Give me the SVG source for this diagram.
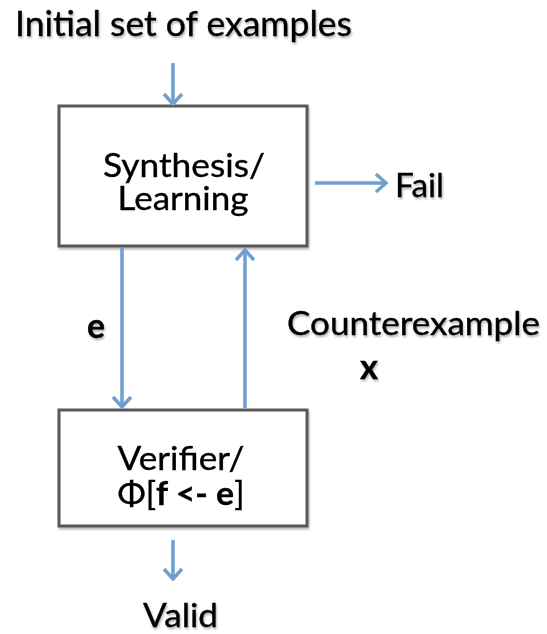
<svg xmlns="http://www.w3.org/2000/svg" width="547" height="634" viewBox="0 0 547 634">
  <defs>
    <filter id="soft" x="-10%" y="-10%" width="120%" height="130%">
      <feGaussianBlur in="SourceAlpha" stdDeviation="1.2"/>
      <feOffset dx="1" dy="2" result="b"/>
      <feComponentTransfer><feFuncA type="linear" slope="0.3"/></feComponentTransfer>
      <feMerge><feMergeNode/><feMergeNode in="SourceGraphic"/></feMerge>
    </filter>
    <marker id="head" viewBox="-14 -12 16 24" refX="0" refY="0" markerWidth="16" markerHeight="24" markerUnits="userSpaceOnUse" orient="auto">
      <path d="M-10,-9 L0,0 L-10,9" fill="none" stroke="#6f9fd0" stroke-width="3.5" stroke-linejoin="miter"/>
    </marker>
  </defs>
  <style>
    .box { fill: #ffffff; stroke: #595959; stroke-width: 3; }
    .lbl { font-family: Lato, "Open Sans", "Liberation Sans", sans-serif; fill: #000000; stroke: #000000; stroke-width: 0.35; }
    .edge { fill: none; stroke: #6f9fd0; stroke-width: 3.5; marker-end: url(#head); }
    .b { font-weight: bold; }
  </style>
  <rect width="547" height="634" fill="#ffffff"/>

  <text class="lbl" x="15" y="36" font-size="34" textLength="337" lengthAdjust="spacingAndGlyphs" filter="url(#soft)">Initial set of examples</text>

  <g id="synthesis" filter="url(#soft)">
    <rect class="box" x="59" y="106" width="248" height="140"/>
    <text class="lbl" x="184" y="177" font-size="32" text-anchor="middle" textLength="162" lengthAdjust="spacingAndGlyphs">Synthesis/</text>
    <text class="lbl" x="183" y="210" font-size="32" text-anchor="middle" textLength="131" lengthAdjust="spacingAndGlyphs">Learning</text>
  </g>

  <g id="verifier" filter="url(#soft)">
    <rect class="box" x="59" y="410" width="248" height="116"/>
    <text class="lbl" x="181" y="470" font-size="32" text-anchor="middle" textLength="127" lengthAdjust="spacingAndGlyphs">Verifier/</text>
    <text class="lbl" x="181" y="505" font-size="32" text-anchor="middle" textLength="127" lengthAdjust="spacingAndGlyphs">Φ[<tspan class="b">f &lt;- e</tspan>]</text>
  </g>

  <g id="connectors">
    <path class="edge" d="M173,63 V104"/>
    <path class="edge" d="M122,247 V407"/>
    <path class="edge" d="M245,408 V250"/>
    <path class="edge" d="M315,183 H386"/>
    <path class="edge" d="M173,540 V579"/>
  </g>

  <g id="labels" filter="url(#soft)">
    <text class="lbl" x="395" y="197" font-size="32" textLength="49" lengthAdjust="spacingAndGlyphs">Fail</text>
    <text class="lbl b" x="87" y="338" font-size="34" textLength="18" lengthAdjust="spacingAndGlyphs">e</text>
    <text class="lbl" x="287" y="335" font-size="32" textLength="253" lengthAdjust="spacingAndGlyphs">Counterexample</text>
    <text class="lbl b" x="360" y="379" font-size="34" textLength="18" lengthAdjust="spacingAndGlyphs">x</text>
    <text class="lbl" x="143" y="627" font-size="32" textLength="75" lengthAdjust="spacingAndGlyphs">Valid</text>
  </g>
</svg>
